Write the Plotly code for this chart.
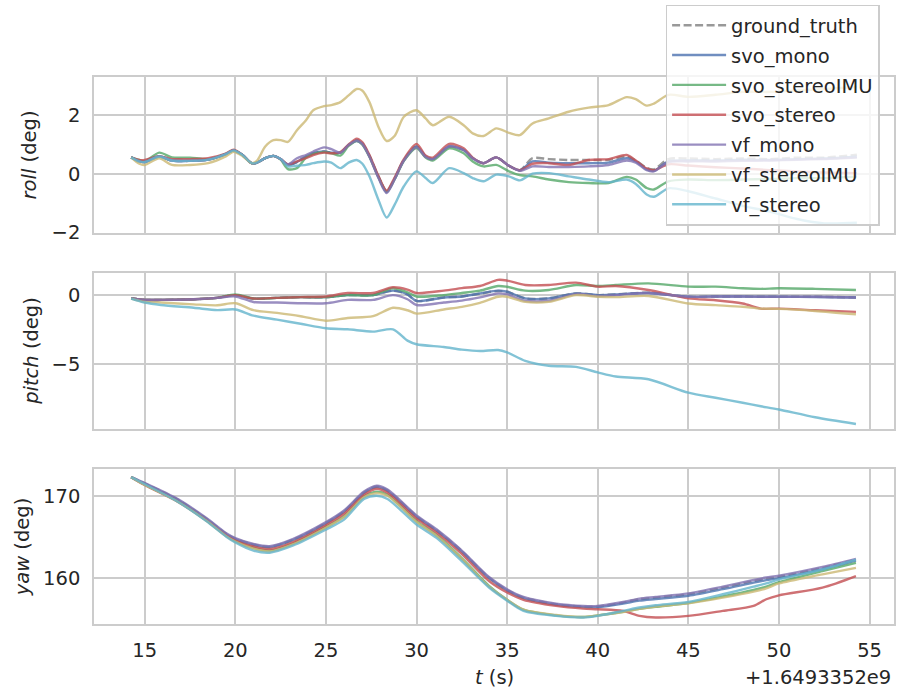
import plotly.graph_objects as go
from plotly.subplots import make_subplots

# ---------------------------------------------------------------------------
# Orientation estimates (deg) versus time (s, relative to T_OFFSET)
# ---------------------------------------------------------------------------
T_OFFSET_LABEL = "+1.6493352e9"

series_names = ["ground_truth", "svo_mono", "svo_stereoIMU", "svo_stereo",
                "vf_mono", "vf_stereoIMU", "vf_stereo"]
series_colors = ["#808080", "#4C72B0", "#55A868", "#C44E52",
                 "#8172B2", "#CCB974", "#64B5CD"]

# ---- roll ----
t_roll = [14.25, 14.7, 15.0, 15.8, 16.5, 17.5, 18.5, 19.5, 19.9, 20.4, 20.9, 21.2,
          21.65, 22.1, 22.5, 22.9, 23.4, 23.9, 24.3, 24.9, 25.3, 25.8, 26.25, 26.7,
          27.0, 27.4, 27.9, 28.35, 28.8, 29.3, 30.0, 30.5, 30.9, 31.8, 32.6, 33.1,
          33.7, 34.4, 35.1, 35.7, 36.4, 37.3, 38.4, 39.5, 40.6, 41.6, 42.1, 42.7,
          43.1, 43.9, 45.0, 46.5, 48.0, 49.5, 51.0, 52.5, 54.3]
roll_ground_truth = [0.56, 0.42, 0.40, 0.59, 0.45, 0.44, 0.48, 0.68, 0.80, 0.64, 0.36, 0.38,
                     0.53, 0.61, 0.50, 0.30, 0.40, 0.59, 0.70, 0.76, 0.72, 0.72, 0.98, 1.15,
                     1.05, 0.62, -0.10, -0.60, -0.15, 0.47, 0.93, 0.59, 0.50, 0.93, 0.81, 0.53,
                     0.36, 0.56, 0.27, 0.12, 0.53, 0.50, 0.47, 0.47, 0.47, 0.59, 0.45, 0.20,
                     0.15, 0.50, 0.52, 0.50, 0.52, 0.50, 0.55, 0.55, 0.65]
roll_svo_mono = [0.56, 0.42, 0.40, 0.59, 0.45, 0.44, 0.48, 0.68, 0.80, 0.64, 0.36, 0.38,
                 0.53, 0.61, 0.50, 0.30, 0.40, 0.59, 0.70, 0.76, 0.72, 0.72, 0.98, 1.13,
                 1.03, 0.60, -0.12, -0.63, -0.17, 0.45, 0.93, 0.59, 0.50, 0.93, 0.81, 0.53,
                 0.36, 0.56, 0.27, 0.12, 0.42, 0.38, 0.36, 0.36, 0.38, 0.53, 0.42, 0.15,
                 0.10, 0.42, 0.45, 0.45, 0.48, 0.47, 0.50, 0.52, 0.58]
roll_svo_stereoIMU = [0.56, 0.47, 0.42, 0.72, 0.56, 0.55, 0.50, 0.68, 0.80, 0.64, 0.36, 0.38,
                      0.53, 0.61, 0.48, 0.16, 0.19, 0.55, 0.68, 0.74, 0.70, 0.62, 0.95, 1.12,
                      1.00, 0.58, -0.12, -0.62, -0.18, 0.44, 0.88, 0.55, 0.45, 0.87, 0.70, 0.42,
                      0.25, 0.30, 0.08, -0.05, -0.09, -0.20, -0.29, -0.32, -0.32, -0.11, -0.20, -0.49,
                      -0.54, -0.26, -0.20, -0.22, -0.20, -0.18, -0.15, -0.15, -0.10]
roll_svo_stereo = [0.56, 0.47, 0.47, 0.60, 0.50, 0.50, 0.53, 0.70, 0.82, 0.64, 0.36, 0.38,
                   0.53, 0.61, 0.50, 0.32, 0.42, 0.53, 0.64, 0.72, 0.70, 0.74, 1.00, 1.20,
                   1.08, 0.64, -0.08, -0.58, -0.12, 0.50, 1.02, 0.62, 0.55, 1.02, 0.87, 0.55,
                   0.36, 0.56, 0.27, 0.12, 0.34, 0.36, 0.30, 0.47, 0.50, 0.64, 0.45, 0.18,
                   0.12, 0.32, 0.28, 0.22, 0.18, 0.12, 0.08, 0.04, 0.02]
roll_vf_mono = [0.56, 0.42, 0.40, 0.59, 0.45, 0.44, 0.48, 0.68, 0.80, 0.64, 0.36, 0.38,
                0.53, 0.61, 0.50, 0.32, 0.53, 0.64, 0.76, 0.90, 0.84, 0.72, 0.98, 1.13,
                1.02, 0.58, -0.15, -0.66, -0.18, 0.45, 0.90, 0.57, 0.50, 0.93, 0.81, 0.53,
                0.36, 0.56, 0.27, 0.10, 0.25, 0.23, 0.23, 0.25, 0.30, 0.45, 0.38, 0.12,
                0.08, 0.40, 0.42, 0.42, 0.44, 0.45, 0.48, 0.50, 0.55]
roll_vf_stereoIMU = [0.56, 0.34, 0.30, 0.53, 0.30, 0.30, 0.36, 0.60, 0.75, 0.60, 0.36, 0.45,
                     0.93, 1.15, 1.15, 1.09, 1.49, 1.83, 2.17, 2.31, 2.35, 2.45, 2.68, 2.90,
                     2.85, 2.45, 1.60, 1.12, 1.30, 1.95, 2.17, 1.89, 1.66, 1.95, 1.66, 1.38,
                     1.29, 1.55, 1.40, 1.32, 1.72, 1.89, 2.12, 2.26, 2.35, 2.62, 2.55, 2.33,
                     2.40, 2.70, 2.63, 2.70, 2.80, 2.80, 2.85, 2.90, 2.97]
roll_vf_stereo = [0.56, 0.42, 0.40, 0.59, 0.45, 0.44, 0.48, 0.68, 0.80, 0.64, 0.36, 0.38,
                  0.53, 0.61, 0.50, 0.25, 0.27, 0.30, 0.36, 0.42, 0.38, 0.19, 0.38, 0.47,
                  0.35, -0.09, -0.90, -1.50, -1.05, -0.43, 0.08, -0.15, -0.32, 0.19, 0.02, -0.15,
                  -0.26, -0.03, -0.09, -0.23, 0.00, 0.02, -0.09, -0.20, -0.29, -0.20, -0.35, -0.71,
                  -0.79, -0.50, -0.60, -0.85, -1.10, -1.30, -1.55, -1.70, -1.68]

# ---- pitch ----
t_pitch = [14.25, 15.0, 15.9, 17.7, 19.0, 20.0, 21.0, 22.3, 23.6, 25.0, 26.2, 27.6,
           28.7, 29.5, 30.0, 31.5, 32.5, 33.5, 34.5, 35.0, 36.0, 37.3, 38.8, 40.0,
           41.0, 42.8, 45.0, 46.5, 48.0, 49.0, 50.0, 52.0, 54.25]
pitch_ground_truth = [-0.25, -0.35, -0.35, -0.30, -0.20, 0.00, -0.25, -0.20, -0.15, -0.15, 0.00, 0.00,
                      0.32, 0.05, -0.42, -0.17, -0.10, 0.10, 0.30, 0.24, -0.24, -0.24, 0.12, 0.00,
                      0.05, 0.17, -0.12, -0.10, -0.10, -0.12, -0.12, -0.12, -0.17]
pitch_svo_mono = [-0.25, -0.35, -0.35, -0.30, -0.20, 0.00, -0.25, -0.20, -0.15, -0.15, 0.00, 0.00,
                  0.32, 0.05, -0.42, -0.17, -0.10, 0.12, 0.32, 0.24, -0.24, -0.24, 0.12, 0.00,
                  0.05, 0.15, -0.12, -0.10, -0.10, -0.12, -0.12, -0.14, -0.17]
pitch_svo_stereoIMU = [-0.25, -0.35, -0.35, -0.30, -0.20, 0.05, -0.25, -0.20, -0.15, -0.15, 0.00, 0.00,
                       0.50, 0.20, -0.10, 0.00, 0.15, 0.32, 0.66, 0.60, 0.32, 0.37, 0.73, 0.66,
                       0.73, 0.85, 0.61, 0.61, 0.49, 0.45, 0.49, 0.45, 0.37]
pitch_svo_stereo = [-0.25, -0.35, -0.35, -0.30, -0.20, 0.00, -0.25, -0.20, -0.15, -0.10, 0.15, 0.15,
                    0.57, 0.40, 0.15, 0.32, 0.50, 0.66, 1.10, 1.05, 0.73, 0.73, 0.90, 0.61,
                    0.66, 0.37, -0.24, -0.37, -0.61, -0.98, -0.98, -1.10, -1.22]
pitch_vf_mono = [-0.25, -0.35, -0.35, -0.30, -0.20, -0.10, -0.50, -0.54, -0.59, -0.59, -0.35, -0.35,
                 0.00, -0.30, -0.72, -0.54, -0.40, -0.17, 0.12, 0.05, -0.41, -0.41, 0.07, -0.07,
                 0.00, 0.15, -0.12, -0.10, -0.10, -0.12, -0.12, -0.12, -0.17]
pitch_vf_stereoIMU = [-0.25, -0.50, -0.54, -0.67, -0.74, -0.59, -1.09, -1.29, -1.53, -1.86, -1.66, -1.53,
                      -0.92, -1.10, -1.34, -1.04, -0.85, -0.56, -0.12, -0.12, -0.49, -0.49, 0.00, -0.12,
                      -0.15, -0.07, -0.61, -0.73, -0.85, -0.98, -1.00, -1.15, -1.39]
pitch_vf_stereo = [-0.25, -0.54, -0.72, -0.92, -1.09, -1.04, -1.49, -1.78, -2.08, -2.40, -2.48, -2.65,
                   -2.48, -3.30, -3.56, -3.76, -3.95, -4.05, -3.98, -4.15, -4.76, -5.12, -5.20, -5.60,
                   -5.90, -6.10, -7.07, -7.44, -7.80, -8.05, -8.29, -8.85, -9.34]

# ---- yaw ----
t_yaw = [14.25, 15.0, 16.8, 18.4, 19.5, 20.0, 21.0, 21.9, 23.2, 25.0, 26.0, 27.1,
         27.8, 28.4, 30.0, 31.1, 32.4, 34.0, 35.0, 35.9, 37.7, 39.2, 40.0, 41.4,
         42.3, 43.2, 45.0, 46.9, 48.6, 49.3, 50.0, 52.4, 54.25]
yaw_ground_truth = [172.27, 171.50, 169.55, 167.20, 165.35, 164.75, 164.05, 163.77, 164.66, 166.68, 168.10, 170.40,
                    171.13, 170.65, 167.50, 165.80, 163.44, 160.00, 158.50, 157.57, 156.76, 156.48, 156.48, 156.96,
                    157.37, 157.57, 157.98, 158.79, 159.60, 159.90, 160.12, 161.20, 162.20]
yaw_svo_mono = [172.27, 171.45, 169.50, 167.15, 165.30, 164.70, 164.00, 163.72, 164.60, 166.62, 168.04, 170.34,
                171.06, 170.58, 167.44, 165.74, 163.38, 159.94, 158.44, 157.50, 156.70, 156.42, 156.40, 156.85,
                157.20, 157.40, 157.80, 158.60, 159.40, 159.70, 159.95, 161.05, 162.10]
yaw_svo_stereoIMU = [172.27, 171.35, 169.35, 167.00, 165.10, 164.45, 163.65, 163.30, 164.20, 166.20, 167.50, 169.90,
                     170.50, 170.10, 166.90, 165.20, 162.60, 159.00, 157.30, 156.10, 155.40, 155.20, 155.40, 155.85,
                     156.20, 156.45, 156.90, 157.70, 158.50, 158.90, 159.45, 160.80, 161.80]
yaw_svo_stereo = [172.27, 171.30, 169.30, 167.00, 165.20, 164.55, 163.80, 163.50, 164.35, 166.40, 167.80, 170.10,
                  170.85, 170.35, 167.20, 165.50, 163.10, 159.60, 158.20, 157.30, 156.56, 156.23, 156.15, 155.95,
                  155.34, 155.14, 155.34, 155.95, 156.56, 157.37, 157.85, 158.79, 160.20]
yaw_vf_mono = [172.27, 171.55, 169.62, 167.28, 165.42, 164.83, 164.12, 163.85, 164.75, 166.78, 168.20, 170.50,
               171.22, 170.75, 167.60, 165.90, 163.52, 160.08, 158.58, 157.65, 156.84, 156.56, 156.56, 157.04,
               157.45, 157.66, 158.08, 158.90, 159.72, 160.02, 160.25, 161.32, 162.30]
yaw_vf_stereoIMU = [172.27, 171.30, 169.30, 166.95, 165.05, 164.40, 163.55, 163.20, 164.10, 166.10, 167.40, 169.80,
                    170.30, 170.00, 166.80, 165.10, 162.50, 158.90, 157.30, 156.10, 155.45, 155.20, 155.40, 155.80,
                    156.20, 156.48, 156.88, 157.57, 158.30, 158.70, 159.30, 160.40, 161.20]
yaw_vf_stereo = [172.27, 171.40, 169.30, 166.90, 165.00, 164.30, 163.30, 163.05, 163.93, 165.87, 167.08, 169.60,
                 170.00, 169.60, 166.48, 164.86, 162.23, 158.80, 157.20, 155.95, 155.34, 155.14, 155.34, 155.95,
                 156.36, 156.64, 157.04, 157.98, 158.90, 159.30, 159.80, 161.00, 162.20]

roll_data = [roll_ground_truth, roll_svo_mono, roll_svo_stereoIMU, roll_svo_stereo,
             roll_vf_mono, roll_vf_stereoIMU, roll_vf_stereo]
pitch_data = [pitch_ground_truth, pitch_svo_mono, pitch_svo_stereoIMU, pitch_svo_stereo,
              pitch_vf_mono, pitch_vf_stereoIMU, pitch_vf_stereo]
yaw_data = [yaw_ground_truth, yaw_svo_mono, yaw_svo_stereoIMU, yaw_svo_stereo,
            yaw_vf_mono, yaw_vf_stereoIMU, yaw_vf_stereo]

x_ticks = [15, 20, 25, 30, 35, 40, 45, 50, 55]

# ---------------------------------------------------------------------------
FONT = "DejaVu Sans"
TEXT = "#262626"
GRID = "#cccccc"
FS = 19.5

fig = make_subplots(rows=3, cols=1, shared_xaxes=True)

panels = [(1, t_roll, roll_data), (2, t_pitch, pitch_data), (3, t_yaw, yaw_data)]
for row, t, data in panels:
    for i, (name, color, vals) in enumerate(zip(series_names, series_colors, data)):
        dash = "8px,3.5px" if name == "ground_truth" else "solid"
        fig.add_trace(
            go.Scatter(
                x=t, y=vals, mode="lines", name=name,
                legendgroup=name, showlegend=(row == 1),
                line=dict(color=color, width=2.4, dash=dash, shape="spline", smoothing=0.8),
                opacity=0.8,
            ),
            row=row, col=1,
        )

axis_common = dict(
    showgrid=True, gridcolor=GRID, gridwidth=1.5,
    showline=True, linecolor=GRID, linewidth=1.5, mirror=True,
    zeroline=False, ticks="", ticklabelstandoff=8,
    tickfont=dict(family=FONT, size=FS, color=TEXT),
)

for k in (1, 2, 3):
    fig.update_layout({
        f"xaxis{'' if k == 1 else k}": dict(
            axis_common, range=[12.2, 56.35], tickvals=x_ticks,
            showticklabels=(k == 3),
        )
    })

fig.update_layout(
    yaxis=dict(axis_common, domain=[0.7148, 1.0], range=[-2.03, 3.31], tickvals=[-2, 0, 2]),
    yaxis2=dict(axis_common, domain=[0.3565, 0.6417], range=[-9.7, 1.6], tickvals=[-5, 0]),
    yaxis3=dict(axis_common, domain=[0.0, 0.2834], range=[154.35, 173.26], tickvals=[160, 170]),
)

# axis labels
label_font = dict(family=FONT, size=FS, color=TEXT)
annotations = [
    dict(text="<i>roll</i> (deg)", x=-0.081, y=0.857, textangle=-90),
    dict(text="<i>pitch</i> (deg)", x=-0.079, y=0.499, textangle=-90),
    dict(text="<i>yaw</i> (deg)", x=-0.089, y=0.1417, textangle=-90),
    dict(text="<i>t</i> (s)", x=0.5, y=-0.097, textangle=0),
    dict(text=T_OFFSET_LABEL, x=0.999, y=-0.097, textangle=0, xanchor="right"),
]
fig.update_layout(annotations=[
    dict(a, xref="paper", yref="paper", showarrow=False, font=label_font,
         xanchor=a.get("xanchor", "center"), yanchor="middle")
    for a in annotations
])

fig.update_layout(
    width=898, height=696,
    margin=dict(l=94, r=2, t=77, b=72),
    paper_bgcolor="white", plot_bgcolor="white",
    font=dict(family=FONT, size=FS, color=TEXT),
    legend=dict(
        x=0.7145, y=1.1325, xanchor="left", yanchor="top",
        bgcolor="rgba(255,255,255,0.8)", bordercolor=GRID, borderwidth=1.5,
        font=dict(family=FONT, size=FS, color=TEXT),
        tracegroupgap=1.5, itemwidth=54,
    ),
)

fig.write_html("out.html")
